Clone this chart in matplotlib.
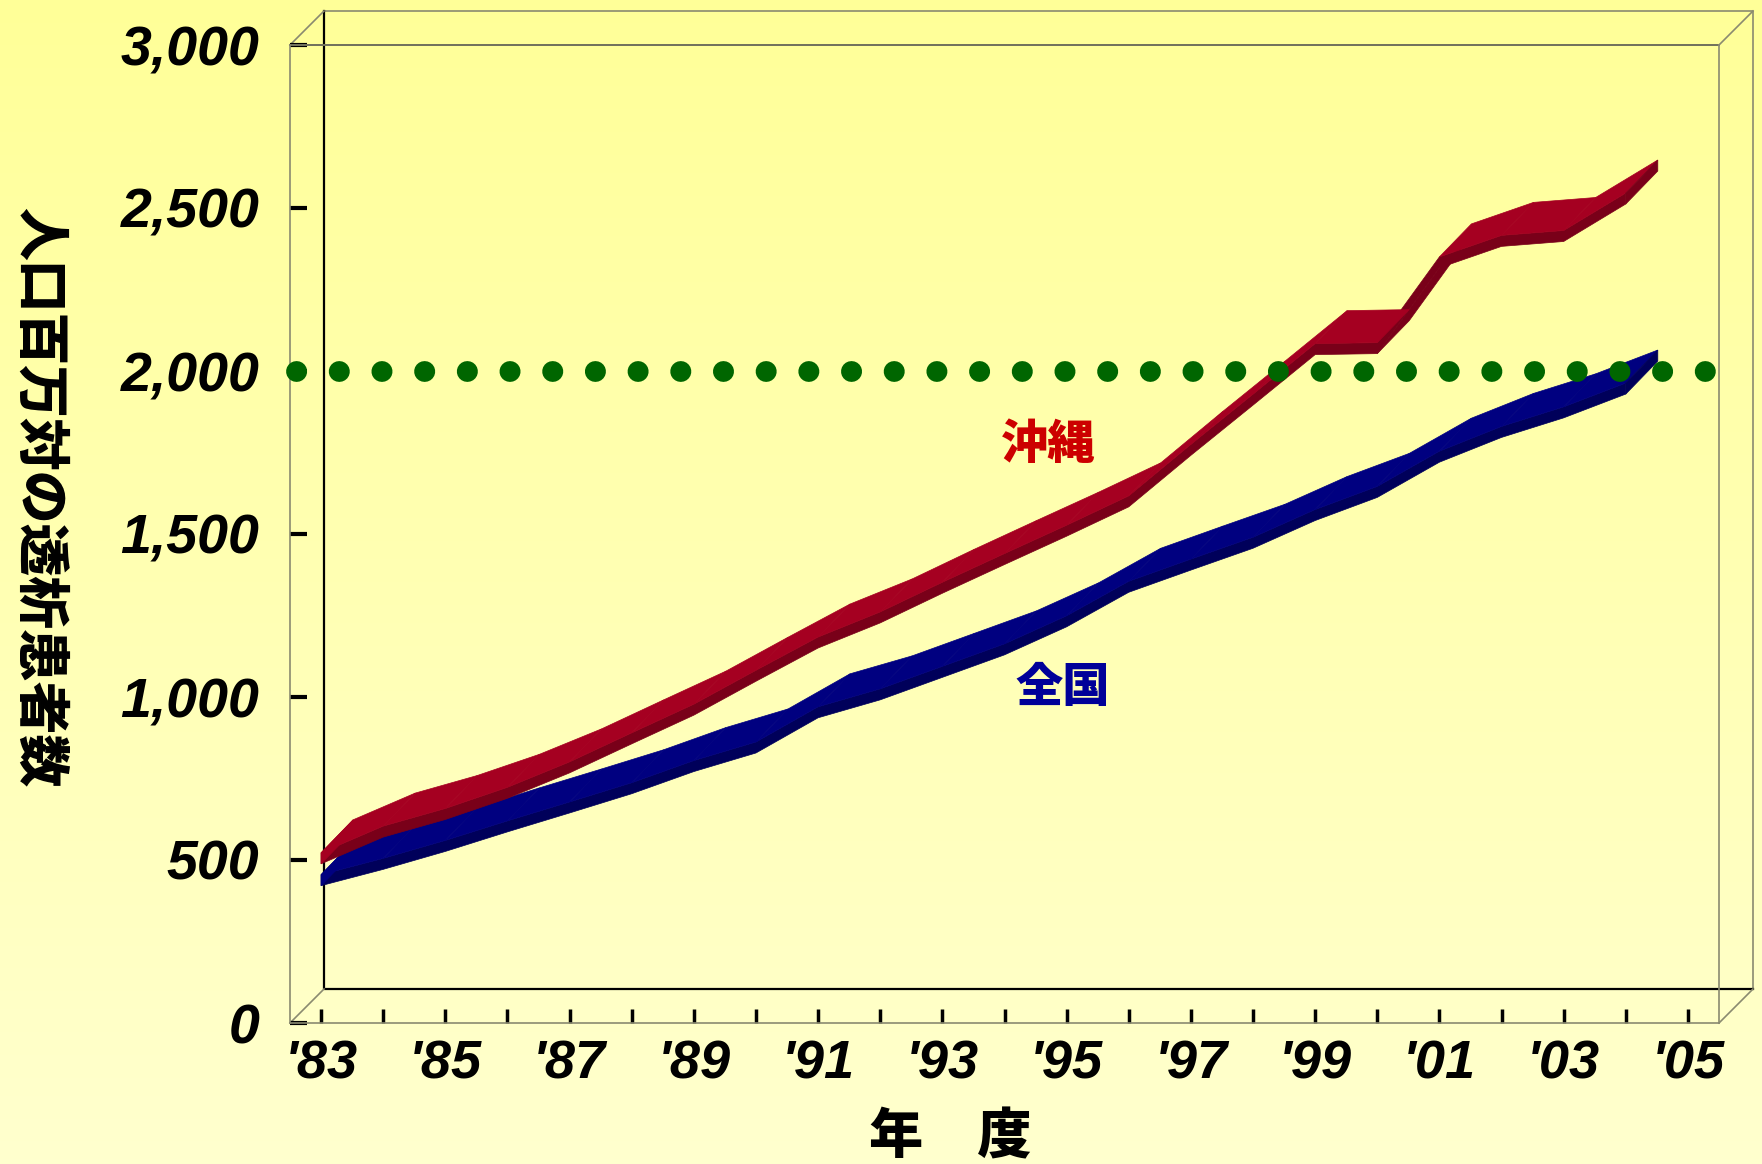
import numpy as np
import matplotlib
matplotlib.use("Agg")
import matplotlib.pyplot as plt
from matplotlib.colors import LinearSegmentedColormap
from matplotlib.patches import Polygon
from matplotlib.transforms import IdentityTransform, offset_copy

# categories (fiscal years) and values per million population
years = ["'83", "'84", "'85", "'86", "'87", "'88", "'89", "'90", "'91", "'92", "'93", "'94",
         "'95", "'96", "'97", "'98", "'99", "'00", "'01", "'02", "'03", "'04", "'05"]
okinawa = [522, 604, 658, 723, 801, 890, 978, 1082, 1184, 1261, 1352, 1440,
           1527, 1617, 1775, 1929, 2084, 2087, 2350, 2416, 2431, 2546]
zenkoku = [455, 505, 560, 620, 678, 737, 805, 862, 970, 1025, 1094, 1163,
           1249, 1355, 1423, 1490, 1575, 1646, 1754, 1830, 1890, 1963]
y_ticks = [0, 500, 1000, 1500, 2000, 2500, 3000]
ref_level = 2000

W, H = 1762, 1164
fig = plt.figure(figsize=(W / 100, H / 100), dpi=100)

# background gradient
bg = fig.add_axes([0, 0, 1, 1], zorder=-5)
cmap = LinearSegmentedColormap.from_list("bg", ["#FFFFCE", "#FFFF98"])
bg.imshow(np.linspace(0, 1, 256).reshape(-1, 1), aspect="auto", cmap=cmap,
          origin="lower", extent=[0, 1, 0, 1])
bg.axis("off")

# front face of the 3d box
ax = fig.add_axes([290 / W, (H - 1023) / H, (1719 - 290) / W, (1023 - 45) / H])
ax.set_facecolor("none")
ax.set_xlim(-0.5, len(years) - 0.5)
ax.set_ylim(0, 3000)

DEPTH = 34
wall_gray = "#8a8a70"
for sp in ax.spines.values():
    sp.set_color(wall_gray)
    sp.set_linewidth(1.2)

# back wall + connectors
tb = offset_copy(ax.transAxes, fig=fig, x=DEPTH, y=DEPTH, units="dots")
ax.plot([0, 1, 1, 0, 0], [0, 0, 1, 1, 0], transform=tb, color=wall_gray, lw=1.2,
        clip_on=False, zorder=1)
ax.plot([0, 0, 1], [1, 0, 0], transform=tb, color="black", lw=1.6, clip_on=False, zorder=1)
ax.plot([0, 1], [1, 1], transform=ax.transAxes, color="black", lw=1.4, clip_on=False, zorder=1)
for cx, cy in [(0, 0), (0, 1), (1, 0), (1, 1)]:
    p = ax.transAxes.transform((cx, cy))
    ax.plot([p[0], p[0] + DEPTH], [p[1], p[1] + DEPTH], transform=IdentityTransform(),
            color=wall_gray, lw=1.2, clip_on=False, zorder=1)


def ribbon(vals, light, dark, dx=32, dy=33, t=11):
    xs = np.arange(len(vals))
    F = ax.transData.transform(np.column_stack([xs, vals]))
    off = np.array([dx, dy])
    down = np.array([0, t])
    B = F + off
    tr = IdentityTransform()

    def poly(pts, c):
        ax.add_patch(Polygon(pts, closed=True, facecolor=c, edgecolor=c, lw=0.5,
                             transform=tr, clip_on=False, zorder=3))

    steep = [(F[i + 1, 1] - F[i, 1]) / (F[i + 1, 0] - F[i, 0]) > dy / dx
             for i in range(len(F) - 1)]
    for i in range(len(F) - 1):
        if steep[i]:
            poly([F[i] - down, F[i + 1] - down, B[i + 1] - down, B[i] - down], dark)
    poly(np.vstack([F, (F - down)[::-1]]), dark)
    for i in range(len(F) - 1):
        if not steep[i]:
            poly([F[i], F[i + 1], B[i + 1], B[i]], light)
    poly([F[0], B[0], B[0] - down, F[0] - down], light)
    poly([F[-1], B[-1], B[-1] - down, F[-1] - down], dark)


ribbon(zenkoku, "#000080", "#00005A")
ribbon(okinawa, "#A50021", "#790019")

# dotted 2000 line
ax.plot([0.0042, 0.990], [ref_level, ref_level], transform=ax.get_yaxis_transform(),
        color="#006600", lw=15, linestyle=(0, (0.01, 2.039)), dash_capstyle="round",
        clip_on=False, zorder=5)

num_font = ["Liberation Sans Narrow", "Liberation Sans", "DejaVu Sans"]
jp_font = ["Noto Sans CJK JP", "DejaVu Sans"]

ax.set_yticks(y_ticks)
ax.set_yticklabels([f"{v:,}" for v in y_ticks], fontfamily=num_font, fontweight="bold",
                   fontstyle="italic", fontsize=40)
ax.set_xticks(range(len(years)))
ax.set_xticklabels([y if i % 2 == 0 else "" for i, y in enumerate(years)],
                   fontfamily=num_font, fontweight="bold", fontstyle="italic", fontsize=39)
ax.tick_params(axis="y", direction="in", length=12, width=3, color="black", pad=22)
ax.tick_params(axis="x", direction="in", length=10, width=2.5, color="black", pad=12)

ax.text(11.7, 1773, "沖縄", color="#CC0000", fontsize=34, fontfamily=jp_font,
        fontweight="heavy", ha="center", va="center", zorder=6)
ax.text(11.94, 1028, "全国", color="#000099", fontsize=34, fontfamily=jp_font,
        fontweight="heavy", ha="center", va="center", zorder=6)

fig.text(39 / W, 1 - 497 / H, "人口百万対の透析患者数", rotation=-90, fontsize=38,
         fontfamily=jp_font, fontweight="heavy", ha="center", va="center")
fig.text(950 / W, 1 - 1137 / H, "年　度", fontsize=39, fontfamily=jp_font,
         fontweight="heavy", ha="center", va="center")

fig.savefig("out.png", dpi=100)
